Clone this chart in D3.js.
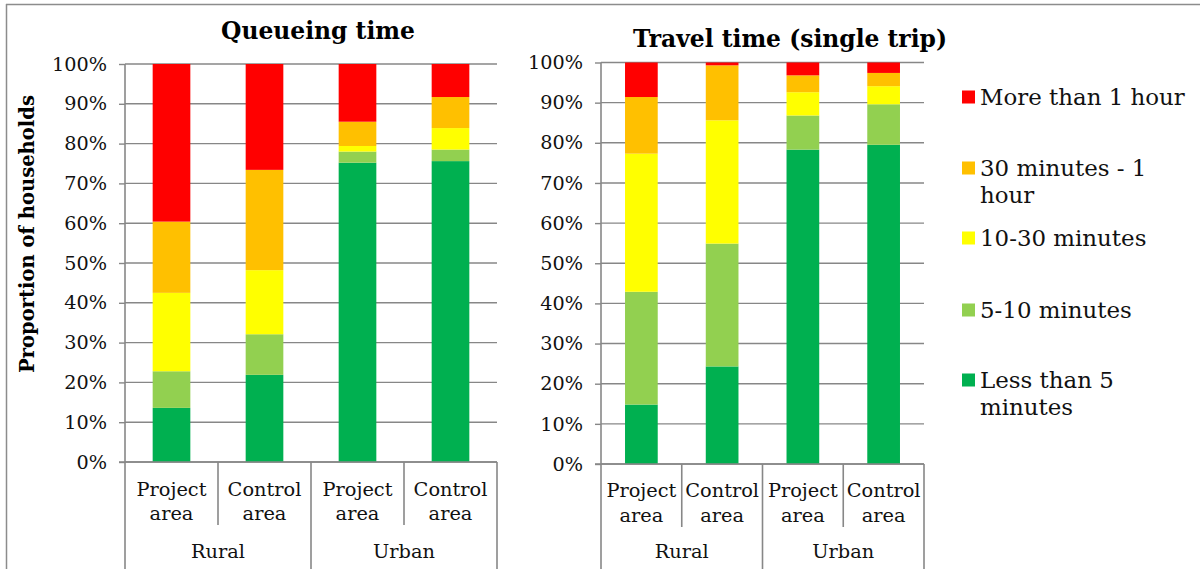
<!DOCTYPE html>
<html><head><meta charset="utf-8">
<script src="https://cdn.jsdelivr.net/npm/d3@7"></script>
<style>body{margin:0;background:#fff}svg{display:block}</style>
</head><body>
<svg id="c" width="1200" height="569"></svg>
<script>
// ---- data ----
const categories = ["Project area","Control area","Project area","Control area"];
const groups = ["Rural","Urban"];
const seriesNames = ["Less than 5 minutes","5-10 minutes","10-30 minutes","30 minutes - 1 hour","More than 1 hour"];
const seriesColors = ["#00B050","#92D050","#FFFF00","#FFC000","#FF0000"];
const yTicks = [0,10,20,30,40,50,60,70,80,90,100];
// Queueing time (%)
const queueLess5   = [13.6, 21.9, 75.2, 75.6];
const queue5to10   = [9.2, 10.2, 2.8, 2.9];
const queue10to30  = [19.7, 16.1, 1.4, 5.4];
const queue30to60  = [17.9, 25.2, 6.1, 7.8];
const queueMore60  = [39.6, 26.6, 14.5, 8.3];
// Travel time (single trip) (%)
const travelLess5  = [14.8, 24.3, 78.3, 79.5];
const travel5to10  = [28.1, 30.6, 8.5, 10.1];
const travel10to30 = [34.4, 30.7, 5.8, 4.5];
const travel30to60 = [14.1, 13.7, 4.2, 3.3];
const travelMore60 = [8.6, 0.7, 3.2, 2.6];
const legendLabels = [["More than 1 hour"],["30 minutes - 1","hour"],["10-30 minutes"],["5-10 minutes"],["Less than 5","minutes"]];
const legendColors = ["#FF0000","#FFC000","#FFFF00","#92D050","#00B050"];

const svg = d3.select("#c");
const FONT = "DejaVu Serif";
const GRID = "#878787";

// font-size fitting helper
function fitSize(text, target, weight, base){
  const t = svg.append("text").attr("font-family",FONT).attr("font-size",base).attr("font-weight",weight||"normal").text(text);
  const w = t.node().getComputedTextLength(); t.remove();
  return base*target/w;
}
const tickFS = fitSize("100%", 55, "normal", 18);
const catFS = fitSize("Project", 70, "normal", 18);
const legFS = fitSize("More than 1 hour", 205, "normal", 20);
const titleFS = fitSize("Queueing time", 194, "bold", 20);
const ytFS = fitSize("Proportion of households", 278, "bold", 17);

// border
svg.append("line").attr("x1",6).attr("x2",1200).attr("y1",4.5).attr("y2",4.5).attr("stroke","#8c8c8c").attr("stroke-width",1.5);
svg.append("line").attr("x1",6.5).attr("x2",6.5).attr("y1",4).attr("y2",569).attr("stroke","#8c8c8c").attr("stroke-width",1.5);

function makeRows(arrs){
  return categories.map((c,i)=>{
    const o = {i};
    seriesNames.forEach((s,k)=>o[s]=arrs[k][i]);
    return o;
  });
}

function drawChart(cfg){
  const g = svg.append("g");
  const x = d3.scaleBand().domain(d3.range(categories.length)).range([cfg.x0,cfg.x1]).padding(0);
  const y = d3.scaleLinear().domain([0,100]).range([cfg.yB,cfg.yT]);
  // gridlines
  g.selectAll(".grid").data(yTicks).join("line")
    .attr("x1",cfg.x0).attr("x2",cfg.x1).attr("y1",d=>y(d)).attr("y2",d=>y(d))
    .attr("stroke",GRID).attr("stroke-width",1.4);
  // y axis
  const ax = g.append("g").attr("transform",`translate(${cfg.x0},0)`)
    .call(d3.axisLeft(y).tickValues(yTicks).tickFormat(d=>d+"%").tickSize(6).tickPadding(12));
  ax.select(".domain").remove();
  ax.selectAll("line").attr("stroke",GRID).attr("stroke-width",1.4);
  ax.selectAll("text").attr("font-family",FONT).attr("font-size",tickFS).attr("fill","#111");
  // bars
  const rows = makeRows(cfg.data);
  const stack = d3.stack().keys(seriesNames)(rows);
  const bw = x.bandwidth()*0.405;
  stack.forEach((layer,k)=>{
    g.selectAll(null).data(layer).join("rect")
      .attr("x",d=>x(d.data.i)+(x.bandwidth()-bw)/2)
      .attr("width",bw)
      .attr("y",d=>y(d[1]))
      .attr("height",d=>Math.max(0,y(d[0])-y(d[1])))
      .attr("fill",seriesColors[k]);
  });
  // vertical axis line
  g.append("line").attr("x1",cfg.x0).attr("x2",cfg.x0).attr("y1",cfg.yT).attr("y2",569).attr("stroke",GRID).attr("stroke-width",1.6);
  // category axis baseline
  g.append("line").attr("x1",cfg.x0-6).attr("x2",cfg.x1).attr("y1",cfg.yB).attr("y2",cfg.yB).attr("stroke",GRID).attr("stroke-width",1.6);
  // dividers
  const bounds = d3.range(categories.length+1).map(i=>i===categories.length? cfg.x1 : x(i));
  bounds.forEach((bx,i)=>{
    if(i===0) return;
    const outer = (i%2===0);
    g.append("line").attr("x1",bx).attr("x2",bx).attr("y1",cfg.yB).attr("y2",outer?569:cfg.divB)
      .attr("stroke",GRID).attr("stroke-width",1.6);
  });
  // category labels
  categories.forEach((c,i)=>{
    const parts = c.split(" ");
    const cx = x(i)+x.bandwidth()/2;
    const t = g.append("text").attr("x",cx).attr("text-anchor","middle")
      .attr("font-family",FONT).attr("font-size",catFS).attr("fill","#111");
    t.append("tspan").attr("x",cx).attr("y",cfg.l1).attr("dy","0.35em").text(parts[0]);
    t.append("tspan").attr("x",cx).attr("y",cfg.l2).attr("dy","0.35em").text(parts[1]);
  });
  groups.forEach((gr,j)=>{
    const cx = (x(j*2)+ (j*2+2===categories.length?cfg.x1:x(j*2+2)))/2;
    g.append("text").attr("x",cx).attr("y",551).attr("dy","0.35em").attr("text-anchor","middle")
      .attr("font-family",FONT).attr("font-size",catFS).attr("fill","#111").text(gr);
  });
  // title
  g.append("text").attr("x",cfg.tx).attr("y",cfg.ty).attr("text-anchor","middle")
    .attr("font-family",FONT).attr("font-weight","bold").attr("font-size",titleFS).attr("fill","#000").text(cfg.title);
}

drawChart({x0:125,x1:497,yT:64,yB:462,divB:525,l1:489,l2:513,tx:318,ty:39,title:"Queueing time",
  data:[queueLess5,queue5to10,queue10to30,queue30to60,queueMore60]});
drawChart({x0:601,x1:924,yT:62.5,yB:464,divB:527,l1:490,l2:515,tx:790,ty:47,title:"Travel time (single trip)",
  data:[travelLess5,travel5to10,travel10to30,travel30to60,travelMore60]});

// y-axis title
svg.append("text").attr("transform","translate(27,234) rotate(-90)").attr("text-anchor","middle").attr("dy","0.35em")
  .attr("font-family",FONT).attr("font-weight","bold").attr("font-size",ytFS).attr("fill","#000").text("Proportion of households");

// legend
const legY = [97,168,238,310,380];
const lg = svg.append("g");
legendLabels.forEach((lines,i)=>{
  lg.append("rect").attr("x",962).attr("y",legY[i]-6.5).attr("width",13).attr("height",13).attr("fill",legendColors[i]);
  lines.forEach((ln,j)=>{
    lg.append("text").attr("x",980).attr("y",legY[i]+j*27).attr("dy","0.35em")
      .attr("font-family",FONT).attr("font-size",legFS).attr("fill","#111").text(ln);
  });
});
</script>
</body></html>
